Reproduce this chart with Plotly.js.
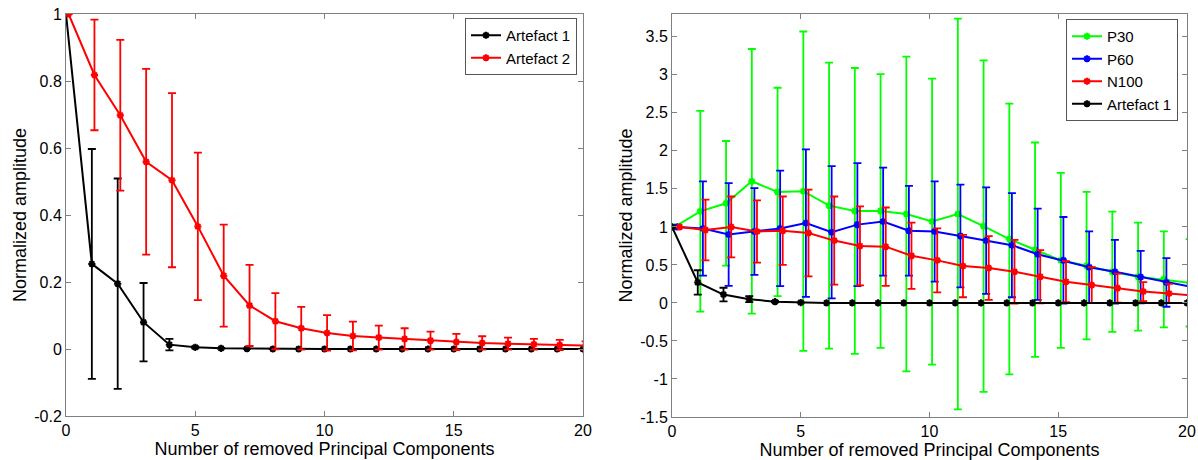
<!DOCTYPE html>
<html>
<head>
<meta charset="utf-8">
<script src="https://cdn.plot.ly/plotly-3.0.1.min.js"></script>
<style>html,body{margin:0;padding:0;background:#fff;}#chart{width:1198px;height:460px;}</style>
</head>
<body>
<div id="chart"></div>
<script>
// ---------- data ----------
const components = [0,1,2,3,4,5,6,7,8,9,10,11,12,13,14,15,16,17,18,19,20];

// Left panel
const leftArt1     = [1.0,0.254,0.195,0.080,0.013,0.005,0.002,0.001,0,0,0,0,0,0,0,0,0,0,0,0,0];
const leftArt1Err  = [0,0.343,0.314,0.117,0.017,0.003,0.001,0,0,0,0,0,0,0,0,0,0,0,0,0,0];
const leftArt2     = [1.0,0.818,0.698,0.559,0.504,0.366,0.219,0.130,0.083,0.062,0.048,0.039,0.034,0.030,0.025,0.021,0.018,0.016,0.014,0.012,0.010];
const leftArt2Err  = [0,0.165,0.225,0.277,0.260,0.220,0.152,0.121,0.084,0.064,0.053,0.043,0.036,0.032,0.027,0.024,0.020,0.018,0.016,0.015,0.013];

// Right panel
const p30      = [1.0,1.205,1.31,1.60,1.46,1.47,1.28,1.21,1.21,1.17,1.07,1.17,1.01,0.84,0.70,0.56,0.49,0.41,0.345,0.31,0.265];
const p30Err   = [0,1.32,0.82,1.74,1.37,2.10,1.88,1.88,1.80,2.07,1.88,2.57,2.18,1.78,1.41,1.15,0.97,0.79,0.71,0.63,0.575];
const p60      = [1.0,0.98,0.90,0.94,0.98,1.05,0.93,1.03,1.07,0.95,0.94,0.88,0.82,0.76,0.64,0.56,0.47,0.41,0.34,0.27,0.21];
const p60Err   = [0,0.62,0.675,0.57,0.76,0.97,0.87,0.81,0.71,0.59,0.66,0.675,0.70,0.685,0.60,0.57,0.47,0.42,0.345,0.32,0.28];
const n100     = [1.0,0.96,1.00,0.94,0.95,0.92,0.82,0.75,0.74,0.62,0.56,0.485,0.46,0.41,0.345,0.28,0.235,0.195,0.15,0.125,0.097];
const n100Err  = [0,0.40,0.40,0.41,0.45,0.57,0.58,0.52,0.515,0.435,0.42,0.41,0.42,0.42,0.35,0.27,0.235,0.19,0.125,0.125,0.10];
const rightArt1    = [1.0,0.27,0.11,0.05,0.017,0.005,0,0,0,0,0,0,0,0,0,0,0,0,0,0,0];
const rightArt1Err = [0,0.16,0.09,0.04,0.01,0,0,0,0,0,0,0,0,0,0,0,0,0,0,0,0];

const xTicks = [0,5,10,15,20];
const xTickText = ['0','5','10','15','20'];
const leftYTicks = [-0.2,0,0.2,0.4,0.6,0.8,1];
const leftYTickText = ['-0.2','0','0.2','0.4','0.6','0.8','1'];
const rightYTicks = [-1.5,-1,-0.5,0,0.5,1,1.5,2,2.5,3,3.5];
const rightYTickText = ['-1.5','-1','-0.5','0','0.5','1','1.5','2','2.5','3','3.5'];

const seriesNames = {leftArt1:'Artefact 1', leftArt2:'Artefact 2', p30:'P30', p60:'P60', n100:'N100', rightArt1:'Artefact 1'};
const xLabel = 'Number of removed Principal Components';
const yLabel = 'Normalized amplitude';

// ---------- helpers ----------
function shift(arr, d){ return arr.map(v => v + d); }
function mk(x, y, err, color, name, xa, ya, legend){
  return {
    type:'scatter', mode:'lines+markers', x:x, y:y, name:name,
    xaxis:xa, yaxis:ya, legend:legend, cliponaxis:true,
    line:{color:color, width:2},
    marker:{symbol:'asterisk-open', size:6, color:color, line:{color:color, width:2}},
    error_y:{type:'data', array:err, visible:true, color:color, thickness:1.8, width:4}
  };
}

const traces = [
  mk(components, leftArt1, leftArt1Err, '#000000', seriesNames.leftArt1, 'x', 'y', 'legend'),
  mk(shift(components,0.1), leftArt2, leftArt2Err, '#ff0000', seriesNames.leftArt2, 'x', 'y', 'legend'),
  mk(shift(components,0.1), p30, p30Err, '#00ff00', seriesNames.p30, 'x2', 'y2', 'legend2'),
  mk(shift(components,0.2), p60, p60Err, '#0000ff', seriesNames.p60, 'x2', 'y2', 'legend2'),
  mk(shift(components,0.3), n100, n100Err, '#ff0000', seriesNames.n100, 'x2', 'y2', 'legend2'),
  mk(components, rightArt1, rightArt1Err, '#000000', seriesNames.rightArt1, 'x2', 'y2', 'legend2')
];

const fontFam = 'Liberation Sans, Arial, sans-serif';
function axisBase(){
  return {
    showgrid:false, zeroline:false, showline:true, mirror:'ticks',
    linecolor:'#808080', linewidth:1, ticks:'inside', ticklen:5, tickcolor:'#808080',
    tickfont:{family:fontFam, size:16, color:'#000'}, tickmode:'array', automargin:false
  };
}

const layout = {
  width:1198, height:460,
  margin:{l:0, r:0, t:0, b:0},
  paper_bgcolor:'#fff', plot_bgcolor:'#fff',
  showlegend:true,
  font:{family:fontFam, color:'#000'},
  xaxis: Object.assign(axisBase(), {domain:[66/1198, 583/1198], range:[0,20], anchor:'y',
    tickvals:xTicks, ticktext:xTickText, title:{text:xLabel, font:{size:18}, standoff:4}}),
  yaxis: Object.assign(axisBase(), {domain:[1-416/460, 1-14/460], range:[-0.2,1], anchor:'x',
    tickvals:leftYTicks, ticktext:leftYTickText, title:{text:yLabel, font:{size:18}, standoff:2}}),
  xaxis2: Object.assign(axisBase(), {domain:[672/1198, 1187/1198], range:[0,20], anchor:'y2',
    tickvals:xTicks, ticktext:xTickText, title:{text:xLabel, font:{size:18}, standoff:4}}),
  yaxis2: Object.assign(axisBase(), {domain:[1-417/460, 1-14/460], range:[-1.5,3.8], anchor:'x2',
    tickvals:rightYTicks, ticktext:rightYTickText, title:{text:yLabel, font:{size:18}, standoff:2}}),
  legend:{x:577/1198, y:1-18/460, xanchor:'right', yanchor:'top', bgcolor:'#fff',
    bordercolor:'#555', borderwidth:1, font:{size:15, family:fontFam}, tracegroupgap:0, itemwidth:30},
  legend2:{x:1178/1198, y:1-19/460, xanchor:'right', yanchor:'top', bgcolor:'#fff',
    bordercolor:'#555', borderwidth:1, font:{size:15, family:fontFam}, tracegroupgap:0, itemwidth:30}
};

Plotly.newPlot('chart', traces, layout, {displayModeBar:false, staticPlot:true});
</script>
</body>
</html>
